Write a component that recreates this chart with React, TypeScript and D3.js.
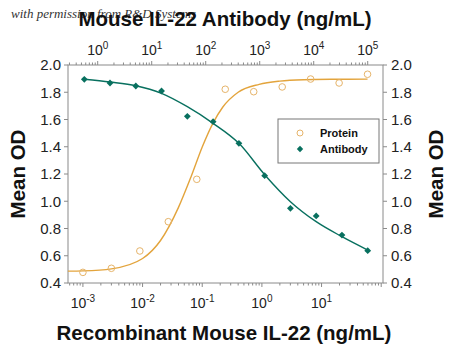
import React from "react";
import * as d3 from "d3";

// ---- Data ----
// Recombinant Mouse IL-22 (ng/mL) – bottom axis
const proteinConc = [0.001, 0.003, 0.009, 0.027, 0.081, 0.243, 0.729, 2.19, 6.56, 19.7, 59.0];
const proteinOD = [0.478, 0.508, 0.635, 0.85, 1.161, 1.822, 1.804, 1.839, 1.897, 1.868, 1.932];
// fitted curve for protein
const proteinFitConc = [0.00056, 0.001, 0.003, 0.01, 0.02, 0.04, 0.065, 0.1, 0.15, 0.22, 0.4, 0.9, 2, 5, 15, 59];
const proteinFitOD = [0.487, 0.489, 0.504, 0.58, 0.712, 0.955, 1.18, 1.398, 1.57, 1.69, 1.8, 1.858, 1.882, 1.892, 1.895, 1.896];

// Mouse IL-22 Antibody (ng/mL) – top axis
const antibodyConc = [0.565, 1.69, 5.08, 15.2, 45.7, 137, 412, 1235, 3704, 11111, 33333, 100000];
const antibodyOD = [1.895, 1.868, 1.846, 1.809, 1.623, 1.584, 1.425, 1.188, 0.948, 0.892, 0.752, 0.637];
// fitted curve for antibody
const antibodyFitOD = [1.895, 1.875, 1.848, 1.792, 1.694, 1.572, 1.425, 1.195, 0.997, 0.85, 0.74, 0.642];

const yTicks = [0.4, 0.6, 0.8, 1.0, 1.2, 1.4, 1.6, 1.8, 2.0];
const bottomExps = [-3, -2, -1, 0, 1];
const topExps = [0, 1, 2, 3, 4, 5];

const legendLabels = ["Protein", "Antibody"];

const ORANGE = "#E3A43C";
const ORANGE_PT = "#E6B46A";
const TEAL = "#08705F";
const AXIS = "#8a8a8a";
const TXT = "#222";

const L = 68, R = 383, T = 65, B = 283;

function minorTicks(domain: number[]) {
  const [a, b] = domain;
  const out: { v: number; major: boolean }[] = [];
  for (let e = Math.floor(Math.log10(a)); e <= Math.ceil(Math.log10(b)); e++) {
    for (let m = 1; m <= 9; m++) {
      const v = m * Math.pow(10, e);
      if (v >= a && v <= b) out.push({ v, major: m === 1 });
    }
  }
  return out;
}

export default function App() {
  const xBottom = d3.scaleLog().domain([Math.pow(10, -3.25), Math.pow(10, 2.03)]).range([L, R]);
  const xTop = d3.scaleLog().domain([Math.pow(10, -0.55), Math.pow(10, 5.283)]).range([L, R]);
  const y = d3.scaleLinear().domain([0.4, 2.0]).range([B, T]);

  const proteinLine = d3
    .line<number>()
    .x((_, i) => xBottom(proteinFitConc[i]))
    .y((d) => y(d))
    .curve(d3.curveMonotoneX)(proteinFitOD);

  const antibodyLine = d3
    .line<number>()
    .x((_, i) => xTop(antibodyConc[i]))
    .y((d) => y(d))
    .curve(d3.curveMonotoneX)(antibodyFitOD);

  const bTicks = minorTicks(xBottom.domain());
  const tTicks = minorTicks(xTop.domain());

  const diamond = (cx: number, cy: number, r: number) =>
    `M${cx},${cy - r}L${cx + r},${cy}L${cx},${cy + r}L${cx - r},${cy}Z`;

  const font = "'Liberation Sans', Arial, sans-serif";

  return (
    <svg
      width={450}
      height={348}
      style={{ position: "absolute", left: 0, top: 0, background: "#fff" }}
      fontFamily={font}
    >
      <rect x={0} y={0} width={450} height={348} fill="#fff" />
      {/* watermark */}
      <text x={11} y={18} fontFamily="'Liberation Serif', 'DejaVu Serif', serif" fontStyle="italic" fontSize={13} fill="#333">
        with permission from R&amp;D Systems
      </text>
      {/* titles */}
      <text x={225} y={26} textAnchor="middle" fontWeight="bold" fontSize={20.5} fill="#111">
        Mouse IL-22 Antibody (ng/mL)
      </text>
      <text x={224} y={340} textAnchor="middle" fontWeight="bold" fontSize={20.5} fill="#111">
        Recombinant Mouse IL-22 (ng/mL)
      </text>
      <text transform={`translate(25,${(T + B) / 2}) rotate(-90)`} textAnchor="middle" fontWeight="bold" fontSize={20.5} fill="#111">
        Mean OD
      </text>
      <text transform={`translate(443,${(T + B) / 2}) rotate(-90)`} textAnchor="middle" fontWeight="bold" fontSize={20.5} fill="#111">
        Mean OD
      </text>

      {/* frame */}
      <rect x={L} y={T} width={R - L} height={B - T} fill="none" stroke={AXIS} strokeWidth={1} />

      {/* y ticks left & right */}
      {yTicks.map((t) => (
        <g key={"y" + t}>
          <line x1={L - 4} x2={L} y1={y(t)} y2={y(t)} stroke={AXIS} />
          <line x1={R} x2={R + 4} y1={y(t)} y2={y(t)} stroke={AXIS} />
          <text x={L - 7} y={y(t)} dy="0.36em" textAnchor="end" fontSize={15} fill={TXT}>
            {t.toFixed(1)}
          </text>
          <text x={R + 8} y={y(t)} dy="0.36em" textAnchor="start" fontSize={15} fill={TXT}>
            {t.toFixed(1)}
          </text>
        </g>
      ))}

      {/* bottom x ticks */}
      {bTicks.map((t, i) => (
        <line key={"bt" + i} x1={xBottom(t.v)} x2={xBottom(t.v)} y1={B} y2={B + (t.major ? 4 : 2.5)} stroke={AXIS} />
      ))}
      {bottomExps.map((e) => (
        <text key={"bl" + e} x={xBottom(Math.pow(10, e))} y={308} textAnchor="middle" fontSize={14} fill={TXT}>
          10
          <tspan fontSize={10} dy={-6}>
            {e}
          </tspan>
        </text>
      ))}

      {/* top x ticks */}
      {tTicks.map((t, i) => (
        <line key={"tt" + i} x1={xTop(t.v)} x2={xTop(t.v)} y1={T} y2={T - (t.major ? 4 : 2.5)} stroke={AXIS} />
      ))}
      {topExps.map((e) => (
        <text key={"tl" + e} x={xTop(Math.pow(10, e))} y={55} textAnchor="middle" fontSize={14} fill={TXT}>
          10
          <tspan fontSize={10} dy={-6}>
            {e}
          </tspan>
        </text>
      ))}

      {/* curves */}
      <path d={proteinLine || ""} fill="none" stroke={ORANGE} strokeWidth={1.4} />
      <path d={antibodyLine || ""} fill="none" stroke={TEAL} strokeWidth={1.4} />

      {/* points */}
      {proteinConc.map((c, i) => (
        <circle key={"p" + i} cx={xBottom(c)} cy={y(proteinOD[i])} r={3.3} fill="none" stroke={ORANGE_PT} strokeWidth={1} />
      ))}
      {antibodyConc.map((c, i) => (
        <path key={"a" + i} d={diamond(xTop(c), y(antibodyOD[i]), 3.4)} fill={TEAL} />
      ))}

      {/* legend */}
      <rect x={278} y={119} width={101} height={44} fill="#fff" stroke="#777" strokeWidth={1} />
      <circle cx={300} cy={133} r={3} fill="none" stroke={ORANGE_PT} strokeWidth={1} />
      <path d={diamond(300, 149, 3.2)} fill={TEAL} />
      <text x={320} y={133} dy="0.36em" fontSize={11} fontWeight="bold" fill="#111">
        {legendLabels[0]}
      </text>
      <text x={320} y={149} dy="0.36em" fontSize={11} fontWeight="bold" fill="#111">
        {legendLabels[1]}
      </text>
    </svg>
  );
}
